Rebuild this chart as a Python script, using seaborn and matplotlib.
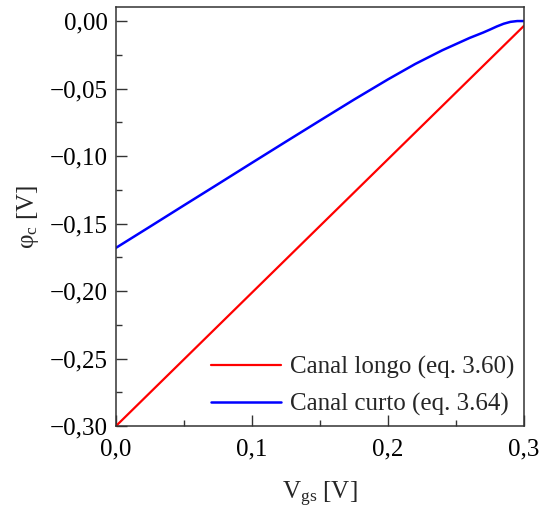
import matplotlib
matplotlib.use("Agg")
import matplotlib.pyplot as plt
import pandas as pd
import seaborn as sns
from matplotlib.ticker import FuncFormatter, MultipleLocator

# data
vgs_long = [0.0, 0.3]
phi_long = [-0.300, -0.0035]

vgs_short = [0.0, 0.025, 0.05, 0.075, 0.1, 0.125, 0.15, 0.175, 0.2, 0.22, 0.24, 0.26,
             0.27, 0.275, 0.28, 0.285, 0.29, 0.295, 0.3]
phi_short = [-0.168, -0.1523, -0.1365, -0.1208, -0.1050, -0.0893, -0.0737, -0.0582, -0.0432,
             -0.0318, -0.0216, -0.0125, -0.0085, -0.0063, -0.0040, -0.0020, -0.0006, 0.0, 0.0]

labels = ["Canal longo (eq. 3.60)", "Canal curto (eq. 3.64)"]

sns.set_style("ticks")
plt.rcParams["font.family"] = ["Liberation Serif", "DejaVu Serif"]
plt.rcParams["mathtext.fontset"] = "custom"
plt.rcParams["mathtext.rm"] = "Liberation Serif"
plt.rcParams["mathtext.it"] = "Liberation Serif:italic"

long_df = pd.DataFrame({"vgs": vgs_long, "phi": phi_long})
short_df = pd.DataFrame({"vgs": vgs_short, "phi": phi_short})

fig = plt.figure(figsize=(5.39, 5.16), dpi=100)
ax = fig.add_axes([0.2152, 0.1744, 0.757, 0.812])

sns.lineplot(data=long_df, x="vgs", y="phi", color="#ff0000", lw=1.6, label=labels[0], ax=ax)
sns.lineplot(data=short_df, x="vgs", y="phi", color="#0000ff", lw=1.8, label=labels[1], ax=ax)

ax.set_xlim(0, 0.3)
ax.set_ylim(-0.30, 0.0104)

ax.xaxis.set_major_locator(MultipleLocator(0.1))
ax.xaxis.set_minor_locator(MultipleLocator(0.05))
ax.yaxis.set_major_locator(MultipleLocator(0.05))
ax.yaxis.set_minor_locator(MultipleLocator(0.025))


def comma(fmt):
    return FuncFormatter(lambda v, _: (fmt % v).replace(".", ",").replace("-", "\u2212")
                         if abs(v) > 1e-9 else (fmt % 0).replace(".", ","))


ax.xaxis.set_major_formatter(comma("%.1f"))
ax.yaxis.set_major_formatter(comma("%.2f"))

ax.tick_params(which="both", direction="in", labelsize=18, colors="#333333", labelcolor="black")
ax.tick_params(which="major", length=8, width=1)
ax.tick_params(which="minor", length=4.5, width=1)
ax.tick_params(axis="x", pad=9)
ax.tick_params(axis="y", pad=6)

for side in ["left", "right", "top", "bottom"]:
    ax.spines[side].set_visible(True)
    ax.spines[side].set_color("#333333")
    ax.spines[side].set_linewidth(1.1)

ax.set_xlabel("V$_{\\mathrm{gs}}$ [V]", fontsize=18, labelpad=14)
ax.set_ylabel("\u03c6$_{\\mathrm{c}}$ [V]", fontsize=18, labelpad=6)

ax.legend(loc="lower right", frameon=False, fontsize=18, handlelength=2.8,
          handletextpad=0.35, borderaxespad=0.0, labelspacing=0.55)

fig.savefig("out.png", dpi=100)
